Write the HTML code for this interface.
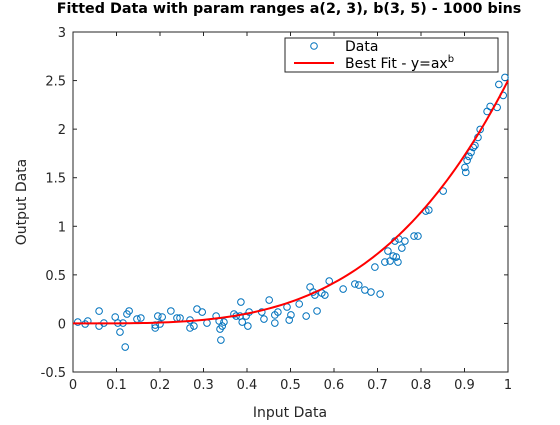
<!DOCTYPE html>
<html><head><meta charset="utf-8"><style>
body{margin:0;background:#fff;font-family:"Liberation Sans","DejaVu Sans",sans-serif}
svg text{font-family:"DejaVu Sans","Liberation Sans",sans-serif}
</style></head><body>
<svg id="chart" width="560" height="420" viewBox="0 0 560 420">
<rect width="560" height="420" fill="#fff"/>
</svg>
<script>
const xData=[0.011,0.028,0.034,0.060,0.060,0.071,0.097,0.103,0.108,0.115,0.120,0.124,0.129,0.147,0.156,0.189,0.189,0.195,0.200,0.205,0.225,0.239,0.246,0.269,0.269,0.278,0.285,0.297,0.308,0.329,0.336,0.338,0.340,0.343,0.347,0.370,0.375,0.384,0.386,0.389,0.398,0.402,0.405,0.434,0.439,0.451,0.464,0.464,0.471,0.492,0.497,0.501,0.520,0.536,0.545,0.552,0.556,0.561,0.572,0.579,0.589,0.621,0.648,0.657,0.671,0.685,0.694,0.706,0.717,0.724,0.729,0.736,0.740,0.743,0.747,0.749,0.756,0.763,0.784,0.793,0.811,0.818,0.851,0.903,0.901,0.906,0.910,0.915,0.920,0.924,0.931,0.936,0.952,0.959,0.975,0.979,0.989,0.993];
const yData=[0.014,-0.006,0.025,0.127,-0.027,0.004,0.066,0.004,-0.089,0.004,-0.243,0.097,0.128,0.045,0.056,-0.047,-0.017,0.076,-0.006,0.066,0.128,0.056,0.056,0.035,-0.047,-0.027,0.148,0.117,0.004,0.076,0.025,-0.058,-0.171,-0.027,0.014,0.097,0.076,0.076,0.220,0.014,0.076,-0.027,0.117,0.117,0.045,0.241,0.087,0.004,0.117,0.169,0.035,0.087,0.200,0.076,0.375,0.323,0.292,0.128,0.313,0.292,0.436,0.354,0.406,0.395,0.344,0.323,0.580,0.302,0.632,0.745,0.642,0.694,0.848,0.683,0.632,0.869,0.776,0.848,0.899,0.899,1.157,1.167,1.363,1.555,1.606,1.678,1.719,1.760,1.812,1.832,1.915,1.997,2.182,2.234,2.224,2.460,2.347,2.532];
const fitA=2.5, fitB=3.5;
const xTicks=[0,0.1,0.2,0.3,0.4,0.5,0.6,0.7,0.8,0.9,1];
const xTickLabels=["0","0.1","0.2","0.3","0.4","0.5","0.6","0.7","0.8","0.9","1"];
const yTicks=[-0.5,0,0.5,1,1.5,2,2.5,3];
const yTickLabels=["-0.5","0","0.5","1","1.5","2","2.5","3"];

const NS="http://www.w3.org/2000/svg";
const svg=document.getElementById('chart');
const L=73,R=508,T=32,B=372;
const sx=v=>L+(v-0)/(1-0)*(R-L);
const sy=v=>B-(v+0.5)/3.5*(B-T);
function mk(tag,attrs,parent){const e=document.createElementNS(NS,tag);for(const k in attrs)e.setAttribute(k,attrs[k]);(parent||svg).appendChild(e);return e;}

const axes=mk('rect',{x:L,y:T,width:R-L,height:B-T,fill:'#fff',stroke:'#262626','stroke-width':1});



const xg=mk('g',{});


xTicks.forEach((t,i)=>{
  mk('line',{x1:sx(t),x2:sx(t),y1:B,y2:B-4,stroke:'#262626'},xg);
  mk('line',{x1:sx(t),x2:sx(t),y1:T,y2:T+4,stroke:'#262626'},xg);
  const tx=mk('text',{x:sx(t),y:B+17,'text-anchor':'middle','font-size':13,fill:'#262626'},xg);
  tx.textContent=xTickLabels[i];
  
  
});
const yg=mk('g',{});


yTicks.forEach((t,i)=>{
  mk('line',{x1:L,x2:L+4,y1:sy(t),y2:sy(t),stroke:'#262626'},yg);
  mk('line',{x1:R,x2:R-4,y1:sy(t),y2:sy(t),stroke:'#262626'},yg);
  const tx=mk('text',{x:L-7,y:sy(t)+5,'text-anchor':'end','font-size':13,fill:'#262626'},yg);
  tx.textContent=yTickLabels[i];
  
  
});

const pg=mk('g',{});


xData.forEach((x,i)=>{
  const c=mk('circle',{cx:sx(x),cy:sy(yData[i]),r:3.3,fill:'none',stroke:'#0072BD','stroke-width':1},pg);
  
  
});

let d='';
for(let i=0;i<=100;i++){const x=i/100;d+=(i?'L':'M')+sx(x).toFixed(2)+','+sy(fitA*Math.pow(x,fitB)).toFixed(2);}
const fit=mk('path',{d:d,fill:'none',stroke:'#ff0000','stroke-width':2});



const lg=mk('g',{});


mk('rect',{x:285,y:38,width:213,height:34,fill:'#fff',stroke:'#262626','stroke-width':1},lg);
mk('circle',{cx:314,cy:46,r:3.3,fill:'none',stroke:'#0072BD'},lg);
let t1=mk('text',{x:345,y:51,'font-size':14,fill:'#000'},lg);t1.textContent='Data';


mk('line',{x1:294,x2:334,y1:63,y2:63,stroke:'#ff0000','stroke-width':2},lg);
let t2=mk('text',{x:345,y:68,'font-size':14,fill:'#000'},lg);
t2.innerHTML='Best Fit - y=ax<tspan dy="-6" font-size="10">b</tspan>';



const title=mk('text',{x:289,y:13,'text-anchor':'middle','font-size':14.3,'font-weight':'bold',fill:'#000'});
title.textContent='Fitted Data with param ranges a(2, 3), b(3, 5) - 1000 bins';


const xt=mk('text',{x:290,y:417,'text-anchor':'middle','font-size':14,fill:'#262626'});
xt.textContent='Input Data';


const yt=mk('text',{x:0,y:0,'text-anchor':'middle','font-size':14,fill:'#262626',transform:'translate(26,202) rotate(-90)'});
yt.textContent='Output Data';


</script>
</body></html>
